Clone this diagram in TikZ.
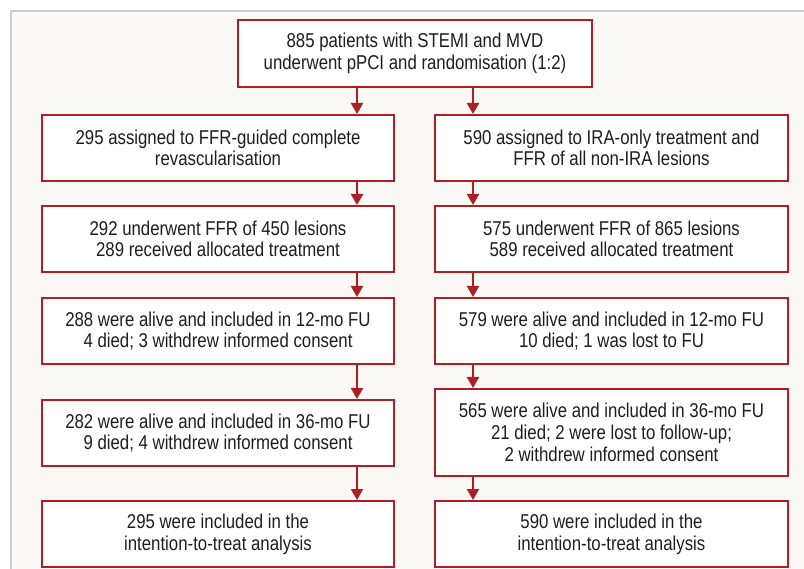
\documentclass[tikz,border=0pt]{standalone}
\usepackage{fontspec}
\setmainfont[FakeStretch=0.84]{Liberation Sans}
\usetikzlibrary{arrows.meta}
\definecolor{boxred}{RGB}{175,30,35}
\definecolor{panel}{RGB}{249,248,245}
\definecolor{panelline}{RGB}{205,205,205}
\definecolor{txt}{RGB}{30,30,30}
\tikzset{
  fbox/.style={draw=boxred, line width=2pt, fill=white, text=txt, align=center,
    inner sep=0pt, font=\fontsize{20}{21.7}\selectfont},
  arr/.style={draw=boxred, line width=2pt, -{Triangle[width=12pt,length=11pt]}},
}
\begin{document}
\begin{tikzpicture}[x=1pt,y=-1pt]
\useasboundingbox (0,0) rectangle (804,569);
\fill[white] (0,0) rectangle (804,569);
\draw[panelline, fill=panel, line width=1.5pt] (11,11) rectangle (820,590);
\coordinate (ax) at (357,0);
\coordinate (bx) at (473,0);
\node[fbox, minimum width=354pt, minimum height=67pt] (T) at (415,53.5) {885 patients with STEMI and MVD\\underwent pPCI and randomisation (1:2)};
\node[fbox, minimum width=352pt, minimum height=66pt] (L1) at (218,148) {295 assigned to FFR-guided complete\\revascularisation};
\node[fbox, minimum width=353pt, minimum height=66pt] (R1) at (611.5,148) {590 assigned to IRA-only treatment and\\FFR of all non-IRA lesions};
\node[fbox, minimum width=352pt, minimum height=66pt] (L2) at (218,239) {292 underwent FFR of 450 lesions\\289 received allocated treatment};
\node[fbox, minimum width=353pt, minimum height=66pt] (R2) at (611.5,239) {575 underwent FFR of 865 lesions\\589 received allocated treatment};
\node[fbox, minimum width=352pt, minimum height=66pt] (L3) at (218,331) {288 were alive and included in 12-mo FU\\4 died; 3 withdrew informed consent};
\node[fbox, minimum width=353pt, minimum height=66pt] (R3) at (611.5,331) {579 were alive and included in 12-mo FU\\10 died; 1 was lost to FU};
\node[fbox, minimum width=352pt, minimum height=66pt] (L4) at (218,433) {282 were alive and included in 36-mo FU\\9 died; 4 withdrew informed consent};
\node[fbox, minimum width=353pt, minimum height=87pt] (R4) at (611.5,432.5) {565 were alive and included in 36-mo FU\\21 died; 2 were lost to follow-up;\\2 withdrew informed consent};
\node[fbox, minimum width=352pt, minimum height=66pt] (L5) at (218,534) {295 were included in the\\intention-to-treat analysis};
\node[fbox, minimum width=353pt, minimum height=66pt] (R5) at (611.5,534) {590 were included in the\\intention-to-treat analysis};
\draw[arr] (T.south -| ax) -- (L1.north -| ax);
\draw[arr] (T.south -| bx) -- (R1.north -| bx);
\draw[arr] (L1.south -| ax) -- (L2.north -| ax);
\draw[arr] (L2.south -| ax) -- (L3.north -| ax);
\draw[arr] (L3.south -| ax) -- (L4.north -| ax);
\draw[arr] (L4.south -| ax) -- (L5.north -| ax);
\draw[arr] (R1.south -| bx) -- (R2.north -| bx);
\draw[arr] (R2.south -| bx) -- (R3.north -| bx);
\draw[arr] (R3.south -| bx) -- (R4.north -| bx);
\draw[arr] (R4.south -| bx) -- (R5.north -| bx);
\end{tikzpicture}
\end{document}
